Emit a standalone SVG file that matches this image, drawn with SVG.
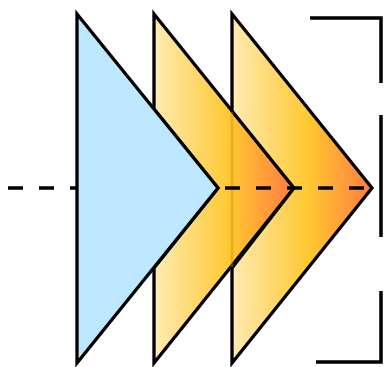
<svg xmlns="http://www.w3.org/2000/svg" width="385" height="367" viewBox="0 0 385 367">
<style>
.shape{stroke:#000;stroke-width:3.3;stroke-linejoin:miter;stroke-miterlimit:10}
.br{fill:none;stroke:#000;stroke-width:3.5}
.dash{fill:none;stroke:#000;stroke-width:3.5;stroke-dasharray:15 16}
</style>
<defs>
<linearGradient id="g1" gradientUnits="userSpaceOnUse" x1="154" y1="0" x2="294" y2="0">
<stop offset="0" stop-color="#FFEBB3"/>
<stop offset="0.55" stop-color="#FFC830"/>
<stop offset="1" stop-color="#FF7A42"/>
</linearGradient>
<linearGradient id="g2" gradientUnits="userSpaceOnUse" x1="232" y1="0" x2="372" y2="0">
<stop offset="0" stop-color="#FFEBB3"/>
<stop offset="0.55" stop-color="#FFC830"/>
<stop offset="1" stop-color="#FF7A42"/>
</linearGradient>
</defs>
<g id="chevron1">
<polygon class="shape" fill="url(#g1)" points="154,14 294,188 154,363 154,268 218,188 154,109"/>
</g>
<g id="chevron2">
<polygon class="shape" fill="url(#g2)" points="232,14 372,188 232,363 232,268 294,188 232,111"/>
<line x1="232" y1="112" x2="232" y2="267" stroke="#C88A10" stroke-opacity="0.4" stroke-width="3"/>
</g>
<g id="connectors">
<line class="dash" x1="8" y1="188" x2="372" y2="188"/>
</g>
<g id="triangle">
<polygon class="shape" fill="#BDE8FF" points="77,14 218,188 77,363"/>
</g>
<g id="brackets">
<polyline class="br" points="310,18 381,18 381,83"/>
<line class="br" x1="381" y1="115" x2="381" y2="237"/>
<polyline class="br" points="381,291 381,362 316,362"/>
</g>
</svg>
